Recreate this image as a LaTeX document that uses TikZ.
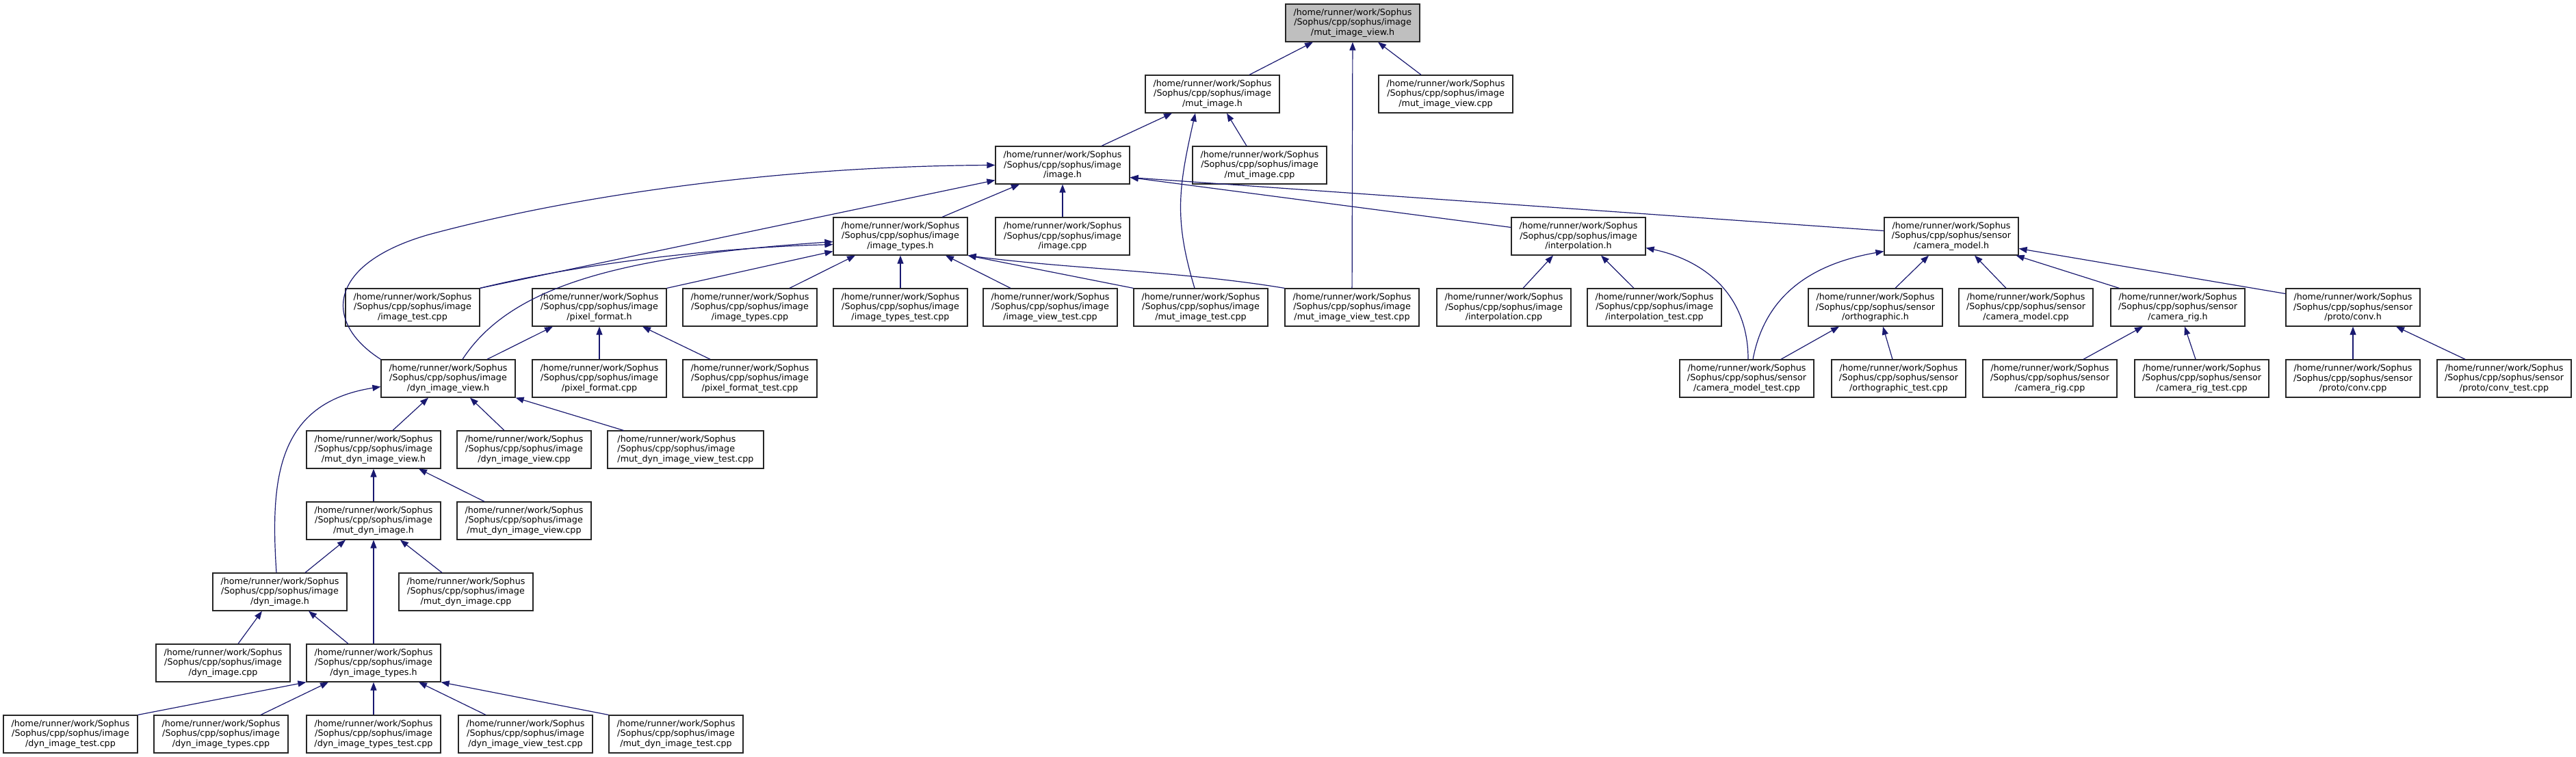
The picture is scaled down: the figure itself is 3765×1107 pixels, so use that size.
\documentclass[tikz,border=0pt]{standalone}
\usepackage{fontspec}
\setmainfont{DejaVu Sans}
\usepackage{xcolor}
\usepackage{tikz}
\usetikzlibrary{arrows.meta,positioning,calc}
\definecolor{depblue}{HTML}{191970}
\definecolor{rootgrey}{HTML}{BFBFBF}
\newcommand{\imgfile}[1]{/home/runner/work/Sophus\\/Sophus/cpp/sophus/image\\/#1}
\newcommand{\senfile}[1]{/home/runner/work/Sophus\\/Sophus/cpp/sophus/sensor\\/#1}

\begin{document}
\begin{tikzpicture}[
    x=1pt, y=-1pt,
    file/.style={rectangle, draw=black!85, line width=1.2pt, fill=white, minimum width=196pt, minimum height=55pt, inner sep=2pt, align=center, font=\fontsize{12.7pt}{14.2pt}\selectfont},
    dep/.style={-{Triangle[length=12pt, width=9pt]}, depblue, line width=1.2pt}
]
\useasboundingbox (0,0) rectangle (3765,1107);

\node[file, fill=rootgrey] (mutview) at (1977,33.5) {\imgfile{mut\_image\_view.h}};

\node[file] (mutimg) at (1772,137.5) {\imgfile{mut\_image.h}};
\node[file] (mutviewcpp) at (2113,137.5) {\imgfile{mut\_image\_view.cpp}};

\node[file] (img) at (1553,241.5) {\imgfile{image.h}};
\node[file] (mutimgcpp) at (1841,241.5) {\imgfile{mut\_image.cpp}};

\node[file] (imgtypes) at (1316,345.5) {\imgfile{image\_types.h}};
\node[file] (imgcpp) at (1553,345.5) {\imgfile{image.cpp}};
\node[file] (interp) at (2307,345.5) {\imgfile{interpolation.h}};
\node[file] (cammodel) at (2852,345.5) {\senfile{camera\_model.h}};

\node[file] (imgtest) at (603,449.5) {\imgfile{image\_test.cpp}};
\node[file] (pixfmt) at (876,449.5) {\imgfile{pixel\_format.h}};
\node[file] (imgtypescpp) at (1096,449.5) {\imgfile{image\_types.cpp}};
\node[file] (imgtypestest) at (1316,449.5) {\imgfile{image\_types\_test.cpp}};
\node[file] (imgviewtest) at (1535,449.5) {\imgfile{image\_view\_test.cpp}};
\node[file] (mutimgtest) at (1755,449.5) {\imgfile{mut\_image\_test.cpp}};
\node[file] (mutviewtest) at (1976,449.5) {\imgfile{mut\_image\_view\_test.cpp}};
\node[file] (interpcpp) at (2198,449.5) {\imgfile{interpolation.cpp}};
\node[file] (interptest) at (2418,449.5) {\imgfile{interpolation\_test.cpp}};
\node[file] (ortho) at (2741,449.5) {\senfile{orthographic.h}};
\node[file] (cammodelcpp) at (2961,449.5) {\senfile{camera\_model.cpp}};
\node[file] (camrig) at (3183,449.5) {\senfile{camera\_rig.h}};
\node[file] (conv) at (3439,449.5) {\senfile{proto/conv.h}};

\node[file] (dynview) at (655,553.5) {\imgfile{dyn\_image\_view.h}};
\node[file] (pixfmtcpp) at (876,553.5) {\imgfile{pixel\_format.cpp}};
\node[file] (pixfmttest) at (1096,553.5) {\imgfile{pixel\_format\_test.cpp}};
\node[file] (cammodeltest) at (2553,553.5) {\senfile{camera\_model\_test.cpp}};
\node[file] (orthotest) at (2775,553.5) {\senfile{orthographic\_test.cpp}};
\node[file] (camrigcpp) at (2996,553.5) {\senfile{camera\_rig.cpp}};
\node[file] (camrigtest) at (3218,553.5) {\senfile{camera\_rig\_test.cpp}};
\node[file] (convcpp) at (3439,553.5) {\senfile{proto/conv.cpp}};
\node[file] (convtest) at (3660,553.5) {\senfile{proto/conv\_test.cpp}};

\node[file] (mutdynview) at (546,657.5) {\imgfile{mut\_dyn\_image\_view.h}};
\node[file] (dynviewcpp) at (766,657.5) {\imgfile{dyn\_image\_view.cpp}};
\node[file, minimum width=228pt, align=left] (mutdynviewtest) at (1002,657.5) {\imgfile{mut\_dyn\_image\_view\_test.cpp}};

\node[file] (mutdynimg) at (546,761.5) {\imgfile{mut\_dyn\_image.h}};
\node[file] (mutdynviewcpp) at (766,761.5) {\imgfile{mut\_dyn\_image\_view.cpp}};

\node[file] (dynimg) at (409,865.5) {\imgfile{dyn\_image.h}};
\node[file] (mutdynimgcpp) at (681,865.5) {\imgfile{mut\_dyn\_image.cpp}};

\node[file] (dynimgcpp) at (326,969.5) {\imgfile{dyn\_image.cpp}};
\node[file] (dyntypes) at (546,969.5) {\imgfile{dyn\_image\_types.h}};

\node[file] (dyntest) at (103,1073.5) {\imgfile{dyn\_image\_test.cpp}};
\node[file] (dyntypescpp) at (323,1073.5) {\imgfile{dyn\_image\_types.cpp}};
\node[file] (dyntypestest) at (546,1073.5) {\imgfile{dyn\_image\_types\_test.cpp}};
\node[file] (dynviewtest) at (768,1073.5) {\imgfile{dyn\_image\_view\_test.cpp}};
\node[file] (mutdyntest) at (988,1073.5) {\imgfile{mut\_dyn\_image\_test.cpp}};

\draw[dep] ($(mutimg.north)+(54,0)$) -- ($(mutview.south)+(-58,0)$);
\draw[dep] ($(mutviewcpp.north)+(-36,0)$) -- ($(mutview.south)+(37,0)$);
\draw[dep] (mutviewtest) -- (mutview);

\draw[dep] ($(img.north)+(57,0)$) -- ($(mutimg.south)+(-59,0)$);
\draw[dep] ($(mutimgcpp.north)+(-19,0)$) -- ($(mutimg.south)+(21,0)$);
\draw[dep] ($(mutimgtest.north)+(-9,0)$) .. controls +(-30,-100) and +(-25,110) .. ($(mutimg.south)+(-25,0)$);

\draw[dep] (imgcpp) -- (img);
\draw[dep] ($(imgtypes.north)+(61,0)$) -- ($(img.south)+(-63,0)$);
\draw[dep] (imgtest.north east) -- ($(img.west)+(0,22)$);
\draw[dep] (dynview.north west) .. controls (470,470) and (480,385) .. (627,343) .. controls (850,283) and (1150,243) .. (img.west);
\draw[dep] ($(interp.west)+(0,-13)$) -- ($(img.east)+(0,18)$);
\draw[dep] ($(cammodel.west)+(0,-8)$) -- ($(img.east)+(0,18)$);

\draw[dep] (imgtest.north east) .. controls (850,385) and (1050,362) .. ($(imgtypes.west)+(0,12)$);
\draw[dep] ($(dynview.north)+(21,0)$) .. controls (745,420) and (900,375) .. ($(imgtypes.west)+(0,8)$);
\draw[dep] (pixfmt.north east) -- ($(imgtypes.west)+(0,22)$);
\draw[dep] ($(imgtypescpp.north)+(58,0)$) -- ($(imgtypes.south)+(-66,0)$);
\draw[dep] (imgtypestest) -- (imgtypes);
\draw[dep] ($(imgviewtest.north)+(-58,0)$) -- ($(imgtypes.south)+(66,0)$);
\draw[dep] (mutimgtest.north west) -- (imgtypes.south east);
\draw[dep] (mutviewtest.north west) .. controls +(-150,-25) and +(150,20) .. (imgtypes.south east);

\draw[dep] ($(dynview.north)+(57,0)$) -- ($(pixfmt.south)+(-68,0)$);
\draw[dep] (pixfmtcpp) -- (pixfmt);
\draw[dep] ($(pixfmttest.north)+(-58,0)$) -- ($(pixfmt.south)+(63,0)$);

\draw[dep] ($(interpcpp.north)+(28,0)$) -- ($(interp.south)+(-37,0)$);
\draw[dep] ($(interptest.north)+(-30,0)$) -- ($(interp.south)+(33,0)$);
\draw[dep] ($(cammodeltest.north)+(2,0)$) .. controls +(0,-95) and +(85,18) .. ($(interp.east)+(0,17)$);

\draw[dep] ($(cammodeltest.north)+(9,0)$) .. controls +(18,-96) and +(-103,18) .. ($(cammodel.west)+(0,22)$);
\draw[dep] ($(ortho.north)+(29,0)$) -- ($(cammodel.south)+(-33,0)$);
\draw[dep] ($(cammodelcpp.north)+(-29,0)$) -- ($(cammodel.south)+(34,0)$);
\draw[dep] ($(camrig.north west)+(13,0)$) -- ($(cammodel.south east)+(-4,0)$);
\draw[dep] ($(conv.west)+(0,-20)$) -- ($(cammodel.east)+(0,18)$);

\draw[dep] ($(cammodeltest.north)+(50,0)$) -- ($(ortho.south)+(-53,0)$);
\draw[dep] ($(orthotest.north)+(-9,0)$) -- ($(ortho.south)+(11,0)$);

\draw[dep] ($(camrigcpp.north)+(49,0)$) -- ($(camrig.south)+(-51,0)$);
\draw[dep] ($(camrigtest.north)+(-9,0)$) -- ($(camrig.south)+(10,0)$);

\draw[dep] (convcpp) -- (conv);
\draw[dep] ($(convtest.north)+(-57,0)$) -- ($(conv.south)+(63,0)$);

\draw[dep] ($(mutdynview.north)+(28,0)$) -- ($(dynview.south)+(-29,0)$);
\draw[dep] ($(dynviewcpp.north)+(-29,0)$) -- ($(dynview.south)+(32,0)$);
\draw[dep] ($(mutdynviewtest.north west)+(24,0)$) -- (dynview.south east);
\draw[dep] ($(dynimg.north)+(-5,0)$) .. controls +(-9,-137) and +(-152,24) .. ($(dynview.west)+(0,12)$);

\draw[dep] (mutdynimg) -- (mutdynview);
\draw[dep] ($(mutdynviewcpp.north)+(-58,0)$) -- ($(mutdynview.south)+(66,0)$);

\draw[dep] ($(dynimg.north)+(37,0)$) -- ($(mutdynimg.south)+(-41,0)$);
\draw[dep] ($(mutdynimgcpp.north)+(-35,0)$) -- ($(mutdynimg.south)+(39,0)$);
\draw[dep] (dyntypes) -- (mutdynimg);

\draw[dep] ($(dynimgcpp.north)+(22,0)$) -- ($(dynimg.south)+(-26,0)$);
\draw[dep] ($(dyntypes.north)+(-37,0)$) -- ($(dynimg.south)+(42,0)$);

\draw[dep] (dyntest.north east) -- (dyntypes.south west);
\draw[dep] ($(dyntypescpp.north)+(58,0)$) -- ($(dyntypes.south)+(-66,0)$);
\draw[dep] (dyntypestest) -- (dyntypes);
\draw[dep] ($(dynviewtest.north)+(-58,0)$) -- ($(dyntypes.south)+(66,0)$);
\draw[dep] (mutdyntest.north west) -- (dyntypes.south east);
\end{tikzpicture}
\end{document}
